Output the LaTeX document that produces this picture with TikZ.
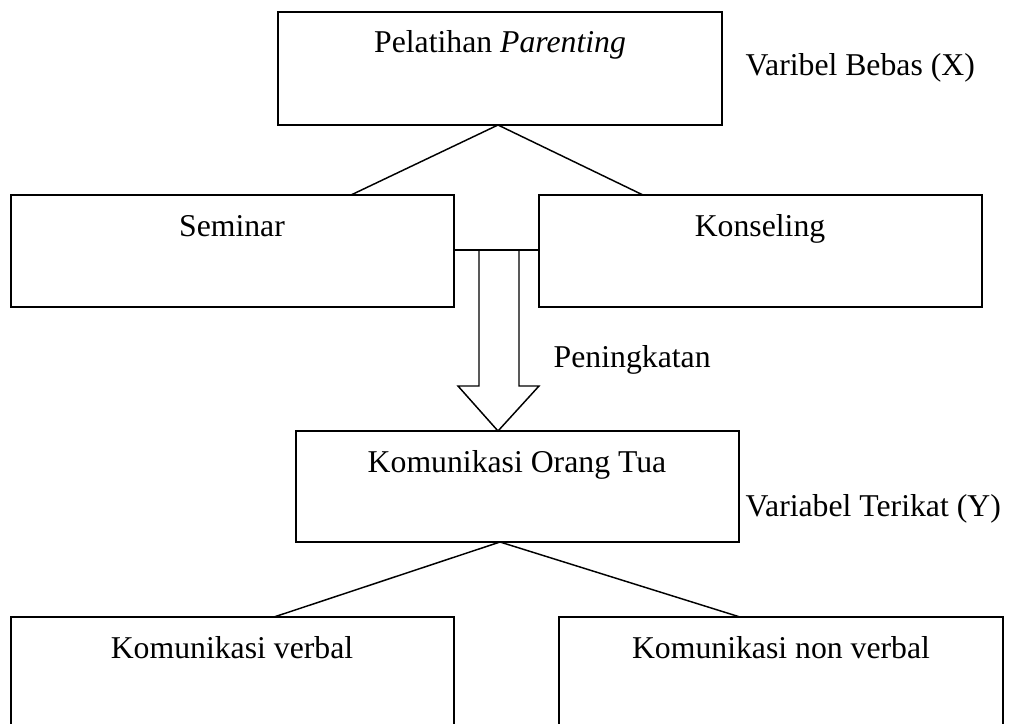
\documentclass[tikz,border=0pt]{standalone}
\usepackage{fontspec}
\setmainfont{Liberation Serif}
\begin{document}
\begin{tikzpicture}[x=0.75pt,y=-0.75pt,
  line width=1.1pt,
  boxst/.style={draw=black,line width=1.1pt},
  lbl/.style={inner sep=0pt,font=\fontsize{23.8}{28}\selectfont},
  conn/.style={draw=black,line width=1.1pt}]
\useasboundingbox (0,0) rectangle (1013,724);
\clip (0,0) rectangle (1013,724);
% boxes
\draw[boxst] (278,12) rectangle (722,125);
\coordinate (topbot) at (498,125);
\draw[boxst] (11,195) rectangle (454,307);
\draw[boxst] (539,195) rectangle (982,307);
\draw[boxst] (296,431) rectangle (739,542);
\draw[boxst] (11,617) rectangle (454,760);
\draw[boxst] (559,617) rectangle (1003,760);
% coordinates for connectors
\coordinate (semtop) at (351,195);
\coordinate (kontop) at (643,195);
\coordinate (semR) at (454,250);
\coordinate (konL) at (539,250);
\coordinate (kotbot) at (500,542);
\coordinate (verbtop) at (274,617);
\coordinate (nonvtop) at (740,617);
% texts
\node[lbl,anchor=base] (t1) at (500,53) {Pelatihan \textit{Parenting}};
\node[lbl,anchor=base west] (vx) at (745,75) {Varibel Bebas (X)};
\node[lbl,anchor=base] (sem) at (232,236) {Seminar};
\node[lbl,anchor=base] (kon) at (760,236) {Konseling};
\node[lbl,anchor=base west] (pen) at (553,367) {Peningkatan};
\node[lbl,anchor=base] (kot) at (517,472) {Komunikasi Orang Tua};
\node[lbl,anchor=base west] (vy) at (745,516) {Variabel Terikat (Y)};
\node[lbl,anchor=base] (kv) at (232,658) {Komunikasi verbal};
\node[lbl,anchor=base] (knv) at (781,658) {Komunikasi non verbal};
% connectors
\draw[conn] (semtop) -- (topbot) -- (kontop);
\draw[conn] (semR) -- (konL);
\draw[conn] (479,250) -- (479,386) -- (458,386) -- (498,431) -- (539,386) -- (519,386) -- (519,250);
\draw[conn] (verbtop) -- (kotbot) -- (nonvtop);
\end{tikzpicture}
\end{document}
